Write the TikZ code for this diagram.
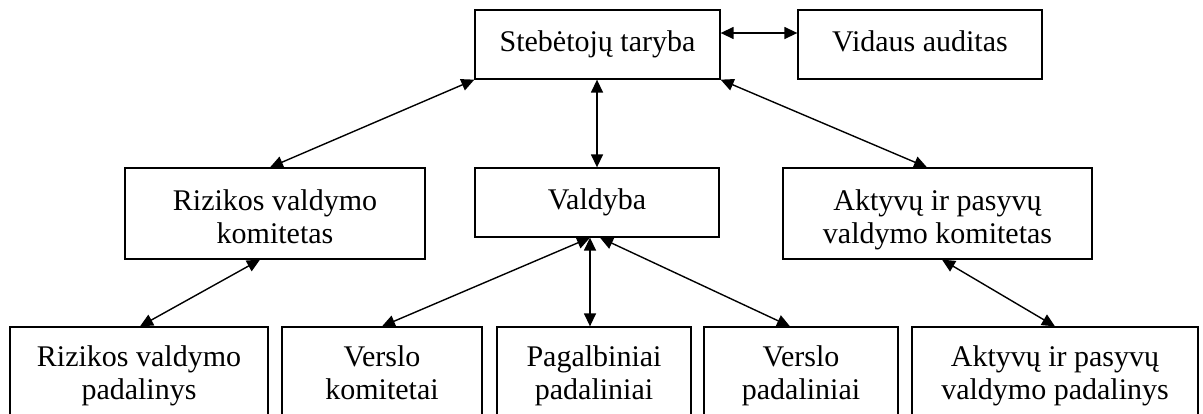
\documentclass[tikz,border=0pt]{standalone}
\usepackage{fontspec}
\setmainfont{Liberation Serif}
\usetikzlibrary{arrows.meta}
\begin{document}
\begin{tikzpicture}[x=1pt,y=-1pt,
  box/.style={draw,line width=1.3pt,inner sep=0pt,align=center,
    font=\fontsize{30}{33}\selectfont,text height=22pt,text depth=8pt},
  % two-line labels: fixed extent above the last baseline and below it
  two/.style={text height=#1,text depth=8pt},
  link/.style={line width=1.4pt,{Triangle[length=13pt,width=12pt]}-{Triangle[length=13pt,width=12pt]}}]
\useasboundingbox (0,0) rectangle (1203,413);
\clip (0,0) rectangle (1203,413);
% top level
\node[box,minimum width=245pt,minimum height=69pt] (steb) at (597.5,44.5) {Stebėtojų taryba};
\node[box,minimum width=244pt,minimum height=69pt] (vid) at (920,44.5) {Vidaus auditas};
% middle level
\node[box,two=67pt,minimum width=300pt,minimum height=91pt] (rkom) at (275,213.5) {Rizikos valdymo\\komitetas};
\node[box,minimum width=244pt,minimum height=69pt] (vald) at (597,202.5) {Valdyba};
\node[box,two=67pt,minimum width=309pt,minimum height=91pt] (akom) at (937.5,213.5) {Aktyvų ir pasyvų\\valdymo komitetas};
% bottom level
\tikzset{bottom/.style={box,two=61pt,minimum height=91pt}}
\node[bottom,minimum width=258pt] (rpad) at (139,372.5) {Rizikos valdymo\\padalinys};
\node[bottom,minimum width=200pt] (vkom) at (382,372.5) {Verslo\\komitetai};
\node[bottom,minimum width=194pt] (pag) at (594,372.5) {Pagalbiniai\\padaliniai};
\node[bottom,minimum width=194pt] (vpad) at (801,372.5) {Verslo\\padaliniai};
\node[bottom,minimum width=286pt] (apad) at (1055,372.5) {Aktyvų ir pasyvų\\valdymo padalinys};
% connectors
\draw[link] ([yshift=11.5pt]steb.east) -- ([yshift=11.5pt]vid.west);
\draw[link] (steb.south west) -- ([xshift=-5pt]rkom.north);
\draw[link] ([xshift=-0.5pt]steb.south) -- (vald.north);
\draw[link] (steb.south east) -- ([xshift=-10.5pt]akom.north);
\draw[link] ([xshift=-15pt]rkom.south) -- ([xshift=1pt]rpad.north);
\draw[link] ([xshift=-7pt]vald.south) -- (vkom.north);
\draw[link] ([xshift=-7pt]vald.south) -- ([xshift=-4pt]pag.north);
\draw[link] ([xshift=3pt]vald.south) -- ([xshift=-11pt]vpad.north);
\draw[link] ([xshift=4.5pt]akom.south) -- (apad.north);
\end{tikzpicture}
\end{document}
